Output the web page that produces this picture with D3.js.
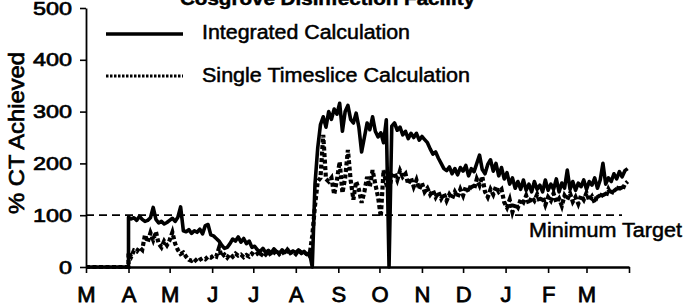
<!DOCTYPE html>
<html>
<head>
<meta charset="utf-8">
<script src="https://cdn.jsdelivr.net/npm/d3@7"></script>
<style>
body { margin: 0; background: #fff; }
svg text { font-family: "Liberation Sans", Arial, sans-serif; fill: #000; stroke: #000; stroke-width: 0.5px; }
</style>
</head>
<body>
<div id="chart"></div>
<script>
var chartTitle = "Cosgrove Disinfection Facility";
var seriesNames = ["Integrated Calculation", "Single Timeslice Calculation"];
var yLabel = "% CT Achieved";
var yTicks = [0, 100, 200, 300, 400, 500];
var monthLetters = ["M", "A", "M", "J", "J", "A", "S", "O", "N", "D", "J", "F", "M", ""];
var axisStart = new Date(1996, 2, 1);
var axisEnd = new Date(1997, 3, 1);
var dataStart = new Date(1996, 3, 1);
var stepDays = 2;
var targetValue = 100;
var targetLabel = "Minimum Target";

// readings every 2 days from 1 April
var integrated = [
  96, 93, 95, 90, 98, 92, 88, 90, 95, 115, 92, 85, 88, 83, 86,
  90, 94, 88, 96, 116, 70, 68, 72, 65, 70, 67, 73, 64, 80, 82, 62,
  60, 55, 50, 42, 36, 38, 45, 54, 50, 58, 48, 55, 45, 50, 38,
  40, 33, 30, 36, 28, 32, 27, 35, 30, 26, 33, 28, 34, 27, 31,
  28, 33, 26, 30, 24, 28, 0,
  160, 230, 275, 290, 270, 300, 285, 305, 295, 316, 262, 300, 312, 285, 278, 297, 270, 222, 250, 278, 265, 290, 262, 251, 259, 240, 284, 0,
  272, 278, 264, 270, 255, 262, 248, 258, 250, 258, 245, 252, 246, 240, 228, 218, 222, 210, 200, 190, 186, 193, 180, 190, 178, 192, 185, 196, 176, 190, 184,
  200, 216, 188, 180, 198, 207, 185, 200, 176, 192, 170, 182, 160, 172, 152, 165, 150, 168, 148, 160, 145, 165, 150, 158, 145, 168, 148, 160,
  150, 170, 145, 162, 152, 187, 150, 165, 148, 162, 155, 168, 150, 165, 158, 172, 152, 168, 200, 160, 172, 165, 180, 170, 184, 174, 186, 190
];
var timeslice = [
  28, 20, 32, 30, 38, 33, 62, 48, 66, 52, 68, 45, 38, 50, 42,
  52, 67, 45, 33, 25, 28, 20, 14, 12, 16, 10, 14, 17, 15, 20, 18,
  22, 20, 37, 20, 24, 18, 25, 20, 26, 22, 24, 19, 23, 20, 26,
  22, 26, 20, 28, 24, 30, 22, 27, 32, 25, 30, 24, 33, 27, 30,
  25, 32, 28, 24, 30, 22, 60, 118, 165,
  172, 255, 170, 165, 172, 140, 168, 203, 143, 172, 226, 168, 130, 165, 150, 124, 145, 174, 155, 187, 160, 135, 97, 187, 160, 150,
  175, 182, 168, 186, 174, 180, 160, 172, 155, 168, 150, 162, 145, 152, 140, 148, 135, 145, 132, 142, 128, 140, 132, 145, 135, 150, 138, 155, 145, 160, 150,
  170, 158, 175, 145, 135, 150, 140, 155, 145, 150, 125, 115, 130, 106, 122, 115, 130, 125, 138, 122, 135, 128, 140, 125, 136, 120, 135, 128,
  142, 125, 132, 118, 138, 130, 142, 126, 135, 122, 138, 130, 143, 128, 136, 124, 140, 132, 145, 135, 150, 140, 152, 145, 158, 148, 160, 165
];

function init() {
    var w = 684, h = 307;

    var svg = d3.select("#chart").append("svg")
        .attr("width", w)
        .attr("height", h);

    var x = d3.scaleTime().domain([axisStart, axisEnd]).range([86, 629]);
    var y = d3.scaleLinear().domain([0, 500]).range([267, 8]);

    function toPoints(values) {
        var pts = [[axisStart, 0], [dataStart, 0]];
        values.forEach(function(v, i) {
            pts.push([d3.timeDay.offset(dataStart, i * stepDays), v]);
        });
        return pts;
    }

    var line = d3.line()
        .x(function(d) { return x(d[0]); })
        .y(function(d) { return y(d[1]); });

    // minimum target
    svg.append("line")
        .attr("x1", x(axisStart)).attr("x2", 622)
        .attr("y1", y(targetValue)).attr("y2", y(targetValue))
        .attr("stroke", "#000").attr("stroke-width", 1.7)
        .attr("stroke-dasharray", "8,5");

    svg.append("text")
        .attr("x", 529).attr("y", 237)
        .attr("font-size", 20)
        .attr("textLength", 153).attr("lengthAdjust", "spacingAndGlyphs")
        .text(targetLabel);

    // series
    svg.append("path")
        .datum(toPoints(timeslice))
        .attr("d", line)
        .attr("fill", "none").attr("stroke", "#000")
        .attr("stroke-width", 4.2)
        .attr("stroke-dasharray", "4,2.5");

    svg.append("path")
        .datum(toPoints(integrated))
        .attr("d", line)
        .attr("fill", "none").attr("stroke", "#000")
        .attr("stroke-width", 3.6)
        .attr("stroke-linejoin", "round");

    // axes
    var monthTicks = d3.timeMonth.range(axisStart, d3.timeDay.offset(axisEnd, 1));
    var xAxis = d3.axisBottom(x)
        .tickValues(monthTicks)
        .tickFormat(function(d, i) { return monthLetters[i]; })
        .tickSize(6).tickSizeOuter(0).tickPadding(13);

    var gx = svg.append("g")
        .attr("transform", "translate(0," + y(0) + ")")
        .call(xAxis);
    gx.select(".domain").attr("stroke-width", 2.4);
    gx.selectAll(".tick line").attr("stroke-width", 1.6);
    gx.selectAll("text")
        .attr("font-size", 22)
        .attr("dy", "0.71em")
        .style("stroke-width", "0.8px");

    var yAxis = d3.axisLeft(y)
        .tickValues(yTicks)
        .tickSize(6).tickSizeOuter(0).tickPadding(8);

    var gy = svg.append("g")
        .attr("transform", "translate(" + x(axisStart) + ",0)")
        .call(yAxis);
    gy.select(".domain").attr("stroke-width", 1.8);
    gy.selectAll(".tick line").attr("stroke-width", 1.6);
    gy.selectAll("text")
        .attr("font-size", 19)
        .attr("textLength", function(d) { return String(d).length * 13; })
        .attr("lengthAdjust", "spacingAndGlyphs")
        .style("stroke-width", "0.7px");

    svg.append("text")
        .attr("transform", "translate(24,133) rotate(-90)")
        .attr("text-anchor", "middle")
        .attr("font-size", 22)
        .attr("textLength", 162).attr("lengthAdjust", "spacingAndGlyphs")
        .style("stroke-width", "0.7px")
        .text(yLabel);

    // title (cut at top edge)
    svg.append("text")
        .attr("x", 180).attr("y", 5)
        .attr("font-size", 19).attr("font-weight", "bold")
        .attr("textLength", 295).attr("lengthAdjust", "spacingAndGlyphs")
        .text(chartTitle);

    // legend
    var legend = svg.append("g");
    legend.append("line")
        .attr("x1", 106).attr("x2", 183).attr("y1", 34).attr("y2", 34)
        .attr("stroke", "#000").attr("stroke-width", 3.4);
    legend.append("line")
        .attr("x1", 106).attr("x2", 183).attr("y1", 76).attr("y2", 76)
        .attr("stroke", "#000").attr("stroke-width", 3)
        .attr("stroke-dasharray", "2.5,1.5");
    legend.append("text")
        .attr("x", 202).attr("y", 39)
        .attr("font-size", 20)
        .attr("textLength", 208).attr("lengthAdjust", "spacingAndGlyphs")
        .text(seriesNames[0]);
    legend.append("text")
        .attr("x", 202).attr("y", 82)
        .attr("font-size", 20)
        .attr("textLength", 268).attr("lengthAdjust", "spacingAndGlyphs")
        .text(seriesNames[1]);
}
window.onload = init;
</script>
</body>
</html>
